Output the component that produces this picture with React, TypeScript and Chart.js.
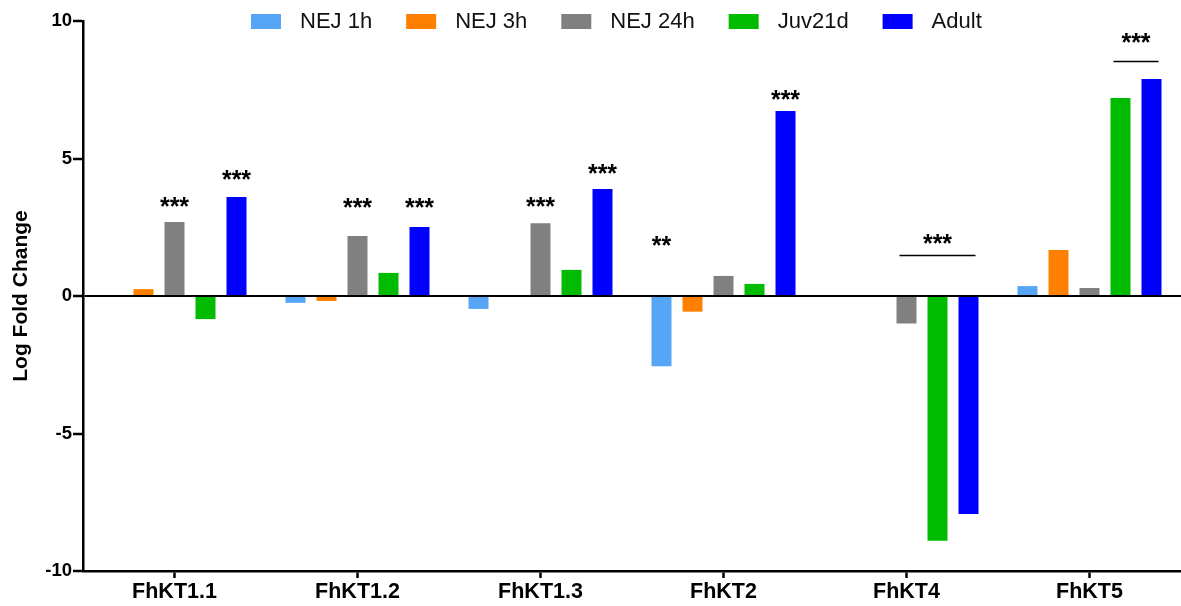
import React, { useEffect, useRef } from 'react';
import { Chart, registerables } from 'chart.js';

Chart.register(...registerables);

const categories = ['FhKT1.1', 'FhKT1.2', 'FhKT1.3', 'FhKT2', 'FhKT4', 'FhKT5'];
const seriesNames = ['NEJ 1h', 'NEJ 3h', 'NEJ 24h', 'Juv21d', 'Adult'];
const seriesColors = ['#56A5F7', '#FF8000', '#808080', '#00BB00', '#0000FF'];

const nej1h = [0, -0.25, -0.47, -2.55, 0, 0.36];
const nej3h = [0.25, -0.18, 0, -0.57, 0, 1.67];
const nej24h = [2.69, 2.18, 2.65, 0.73, -1.0, 0.29];
const juv21d = [-0.84, 0.84, 0.95, 0.44, -8.9, 7.2];
const adult = [3.6, 2.51, 3.89, 6.73, -7.93, 7.89];

const yMin = -10;
const yMax = 10;
const yStep = 5;

// significance marks: category index, series index, y value of mark, text
const starMarks = [
  { cat: 0, series: 2, y: 3.45, text: '***' },
  { cat: 0, series: 4, y: 4.43, text: '***' },
  { cat: 1, series: 2, y: 3.41, text: '***' },
  { cat: 1, series: 4, y: 3.41, text: '***' },
  { cat: 2, series: 2, y: 3.45, text: '***' },
  { cat: 2, series: 4, y: 4.65, text: '***' },
  { cat: 3, series: 0, y: 2.03, text: '**' },
  { cat: 3, series: 4, y: 7.34, text: '***' },
];

const brackets = [
  { cat: 4, from: 2, to: 4, lineY: 1.49, textY: 2.1, text: '***' },
  { cat: 5, from: 3, to: 4, lineY: 8.55, textY: 9.42, text: '***' },
];

const FONT = '"Liberation Sans", Arial, Helvetica, sans-serif';

const annotationPlugin = {
  id: 'sigMarks',
  afterDatasetsDraw(chart: any) {
    const ctx = chart.ctx;
    const yScale = chart.scales.y;
    const fs = 25;
    ctx.save();
    ctx.font = `bold ${fs}px ${FONT}`;
    ctx.textAlign = 'center';
    ctx.textBaseline = 'alphabetic';
    ctx.fillStyle = '#000';
    ctx.strokeStyle = '#000';
    starMarks.forEach((m) => {
      const bar = chart.getDatasetMeta(m.series).data[m.cat];
      const y = yScale.getPixelForValue(m.y);
      ctx.fillText(m.text, bar.x, y + 0.56 * fs);
    });
    brackets.forEach((b) => {
      const a = chart.getDatasetMeta(b.from).data[b.cat];
      const c = chart.getDatasetMeta(b.to).data[b.cat];
      const x1 = a.x - a.width / 2 + 3;
      const x2 = c.x + c.width / 2 - 3;
      const ly = Math.round(yScale.getPixelForValue(b.lineY)) + 0.5;
      ctx.lineWidth = 1.5;
      ctx.beginPath();
      ctx.moveTo(x1, ly);
      ctx.lineTo(x2, ly);
      ctx.stroke();
      ctx.fillText(b.text, (x1 + x2) / 2, yScale.getPixelForValue(b.textY) + 0.56 * fs);
    });
    ctx.restore();
  },
};

const legendPlugin = {
  id: 'topLegend',
  afterDraw(chart: any) {
    const ctx = chart.ctx;
    ctx.save();
    ctx.font = `22px ${FONT}`;
    ctx.textBaseline = 'middle';
    ctx.textAlign = 'left';
    let x = 251;
    chart.data.datasets.forEach((ds: any) => {
      ctx.fillStyle = ds.backgroundColor;
      ctx.fillRect(x, 14, 30, 15);
      const tx = x + 49;
      ctx.fillStyle = '#111';
      ctx.fillText(ds.label, tx, 22);
      x = tx + ctx.measureText(ds.label).width + 34;
    });
    ctx.restore();
  },
};

export default function App() {
  const ref = useRef<HTMLCanvasElement>(null);
  useEffect(() => {
    document.body.style.margin = '0';
    const values = [nej1h, nej3h, nej24h, juv21d, adult];
    const chart = new Chart(ref.current as HTMLCanvasElement, {
      type: 'bar',
      data: {
        labels: categories,
        datasets: seriesNames.map((name, i) => ({
          label: name,
          data: values[i],
          backgroundColor: seriesColors[i],
          borderWidth: 0,
          categoryPercentage: 0.847,
          barPercentage: 0.645,
        })),
      },
      options: {
        animation: false,
        responsive: true,
        maintainAspectRatio: false,
        layout: { padding: { top: 21, right: 0, left: 0, bottom: 0 } },
        plugins: {
          legend: { display: false },
          tooltip: { enabled: false },
        },
        scales: {
          x: {
            grid: {
              offset: false,
              drawOnChartArea: false,
              color: '#000',
              tickColor: '#000',
              tickLength: 7,
              tickWidth: 2.5,
            },
            border: { color: '#000', width: 2.5 },
            ticks: {
              color: '#000',
              font: { family: FONT, size: 21.5, weight: 'bold' },
              padding: 1,
              maxRotation: 0,
            },
            afterFit: (s: any) => {
              s.height = 35;
            },
          },
          y: {
            min: yMin,
            max: yMax,
            z: 1,
            ticks: {
              stepSize: yStep,
              color: '#000',
              font: { family: FONT, size: 18.5, weight: 'bold' },
              padding: 1,
            },
            grid: {
              color: (c: any) => (c.tick && c.tick.value === 0 ? '#000' : 'rgba(0,0,0,0)'),
              lineWidth: (c: any) => (c.tick && c.tick.value === 0 ? 2 : 0),
              tickColor: '#000',
              tickLength: 10,
              tickWidth: 2.5,
            },
            border: { color: '#000', width: 2.5 },
            title: {
              display: true,
              text: 'Log Fold Change',
              color: '#000',
              font: { family: FONT, size: 21, weight: 'bold' },
              padding: { top: 9, bottom: 0 },
            },
            afterFit: (s: any) => {
              s.width = 83;
            },
          },
        },
      },
      plugins: [annotationPlugin, legendPlugin],
    });
    return () => chart.destroy();
  }, []);

  return (
    <div style={{ width: '1181px', height: '606px', position: 'relative' }}>
      <canvas ref={ref} />
    </div>
  );
}
